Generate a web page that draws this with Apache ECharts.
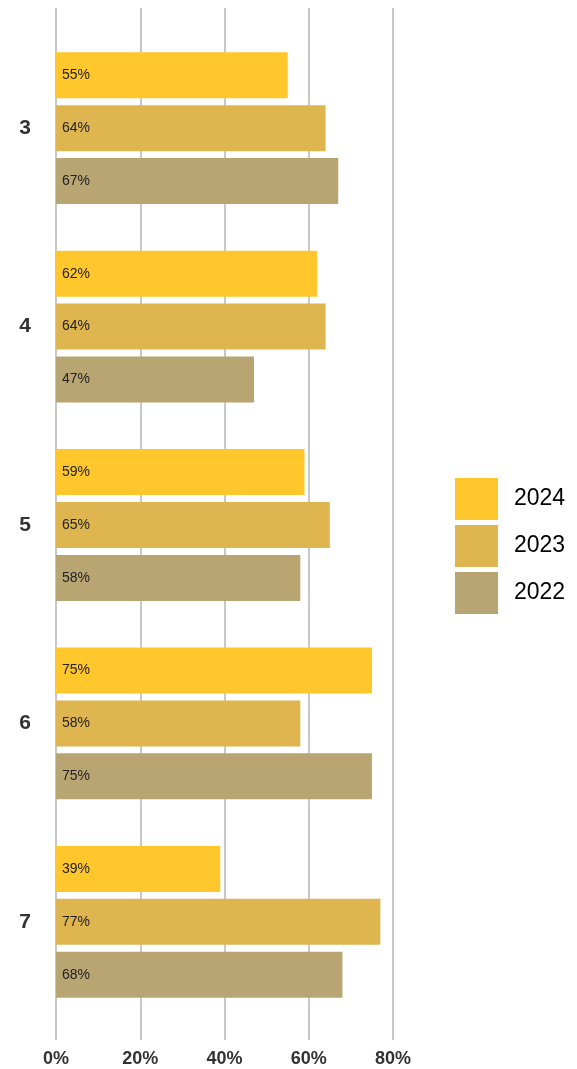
<!DOCTYPE html>
<html><head><meta charset="utf-8">
<script src="https://cdn.jsdelivr.net/npm/echarts@6/dist/echarts.min.js"></script>
<style>html,body{margin:0;padding:0;background:#fff}#c{width:577px;height:1069px}</style>
</head><body><div id="c"></div>
<script>
var categories = ['3', '4', '5', '6', '7'];
var seriesNames = ['2024', '2023', '2022'];
var values2024 = [55, 62, 59, 75, 39];
var values2023 = [64, 64, 65, 58, 77];
var values2022 = [67, 47, 58, 75, 68];
var colors = ['#FFC72C', '#DEB54F', '#B9A572'];
var allValues = [values2024, values2023, values2022];
var FONT = '"Liberation Sans", Arial, sans-serif';

var chart = echarts.init(document.getElementById('c'));
chart.setOption({
  animation: false,
  grid: [
    {left: 56, right: 184, top: 29, bottom: 48},
    {left: 56, right: 184, top: 8, bottom: 29}
  ],
  xAxis: [
    {gridIndex: 0, type: 'value', min: 0, max: 80, interval: 20, axisLabel: {show: false}, splitLine: {show: false}, axisLine: {show: false}, axisTick: {show: false}},
    {gridIndex: 1, type: 'value', min: 0, max: 80, interval: 20,
      axisLabel: {formatter: '{value}%', fontWeight: 'bold', fontSize: 18, color: '#333', margin: 10, fontFamily: FONT},
      splitLine: {show: true, lineStyle: {color: '#c8c8c8', width: 2}},
      axisLine: {show: false}, axisTick: {show: false}}
  ],
  yAxis: [
    {gridIndex: 0, type: 'category', data: categories, inverse: true,
      axisLine: {show: false}, axisTick: {show: false},
      axisLabel: {fontWeight: 'bold', fontSize: 21, color: '#333', margin: 25, fontFamily: FONT}},
    {gridIndex: 1, type: 'category', data: [''], show: false}
  ],
  legend: {
    orient: 'vertical', left: 450, top: 473,
    itemWidth: 43, itemHeight: 42, itemGap: 5, icon: 'rect',
    textStyle: {fontSize: 23, color: '#000', fontFamily: FONT, padding: [0, 0, 0, 11]},
    data: seriesNames
  },
  series: seriesNames.map(function (name, i) {
    return {
      name: name, type: 'bar', xAxisIndex: 0, yAxisIndex: 0,
      data: allValues[i], barWidth: 46, barGap: '15%',
      itemStyle: {color: colors[i]},
      label: {show: true, position: 'insideLeft', distance: 6, formatter: '{c}%', fontSize: 14, color: '#222', fontFamily: FONT}
    };
  })
});
</script></body></html>
